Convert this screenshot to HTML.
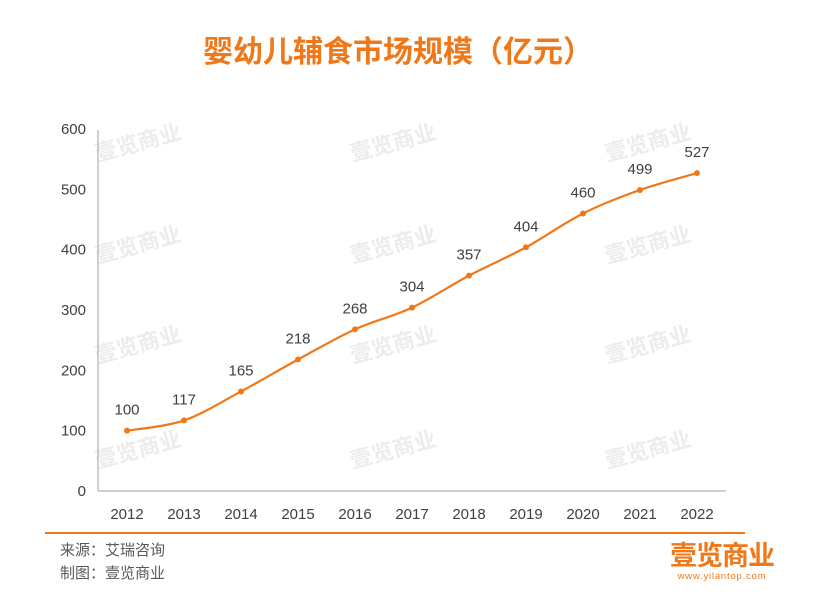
<!DOCTYPE html>
<html><head><meta charset="utf-8"><style>
body{margin:0;background:#fff;width:819px;height:607px;overflow:hidden}
svg{display:block;font-family:"Liberation Sans","Noto Sans CJK SC",sans-serif}
</style></head><body>
<svg id="s" width="819" height="607" viewBox="0 0 819 607">
<text x="398" y="62" text-anchor="middle" font-size="30" font-weight="bold" fill="#f07818">婴幼儿辅食市场规模（亿元）</text>
<g id="wm" fill="#ececec" font-size="22" font-weight="bold"></g>
<line x1="98" y1="130" x2="98" y2="491" stroke="#bfbfbf" stroke-width="1.5"/>
<line x1="98" y1="491" x2="726" y2="491" stroke="#bfbfbf" stroke-width="1.5"/>
<g id="ax" font-size="15" fill="#404040"></g>
<path id="ln" fill="none" stroke="#f07818" stroke-width="2.2"/>
<g id="pt"></g>
<line x1="45" y1="533" x2="745" y2="533" stroke="#f07818" stroke-width="2"/>
<text x="60" y="555" font-size="15" fill="#595959">来源：艾瑞咨询</text>
<text x="60" y="578" font-size="15" fill="#595959">制图：壹览商业</text>
<text x="722" y="565" text-anchor="middle" font-size="27" font-weight="bold" fill="#f07818" letter-spacing="-1">壹览商业</text>
<text x="722" y="579" text-anchor="middle" font-size="9.5" fill="#f07818" letter-spacing="0.8">www.yilantop.com</text>
</svg>
<script>
var ns="http://www.w3.org/2000/svg";
function el(p,t,a,tx){var e=document.createElementNS(ns,t);for(var k in a)e.setAttribute(k,a[k]);if(tx!=null)e.textContent=tx;document.getElementById(p).appendChild(e);return e;}
[140,395,650].forEach(function(x){[150,252,352,457].forEach(function(y){el("wm","text",{x:x,y:y,"text-anchor":"middle",transform:"rotate(-15 "+x+" "+y+")"},"壹览商业");});});
for(var i=0;i<=6;i++){var y=491-i*60.33;el("ax","text",{x:86,y:y+5,"text-anchor":"end"},i*100);}
var v=[100,117,165,218,268,304,357,404,460,499,527],P=[];
for(var i=0;i<11;i++){var x=127+57*i,y=491-v[i]*0.6033;P.push([x,y]);
el("ax","text",{x:x,y:519,"text-anchor":"middle"},2012+i);
el("ax","text",{x:x,y:y-16,"text-anchor":"middle"},v[i]);
el("pt","circle",{cx:x,cy:y,r:3,fill:"#f07818"});}
var d="M"+P[0];
for(var i=0;i<10;i++){var p0=P[Math.max(0,i-1)],p1=P[i],p2=P[i+1],p3=P[Math.min(10,i+2)];
var c1=[p1[0]+(p2[0]-p0[0])/6,p1[1]+(p2[1]-p0[1])/6],c2=[p2[0]-(p3[0]-p1[0])/6,p2[1]-(p3[1]-p1[1])/6];
d+=" C"+c1+" "+c2+" "+p2;}
document.getElementById("ln").setAttribute("d",d);
</script>
</body></html>
